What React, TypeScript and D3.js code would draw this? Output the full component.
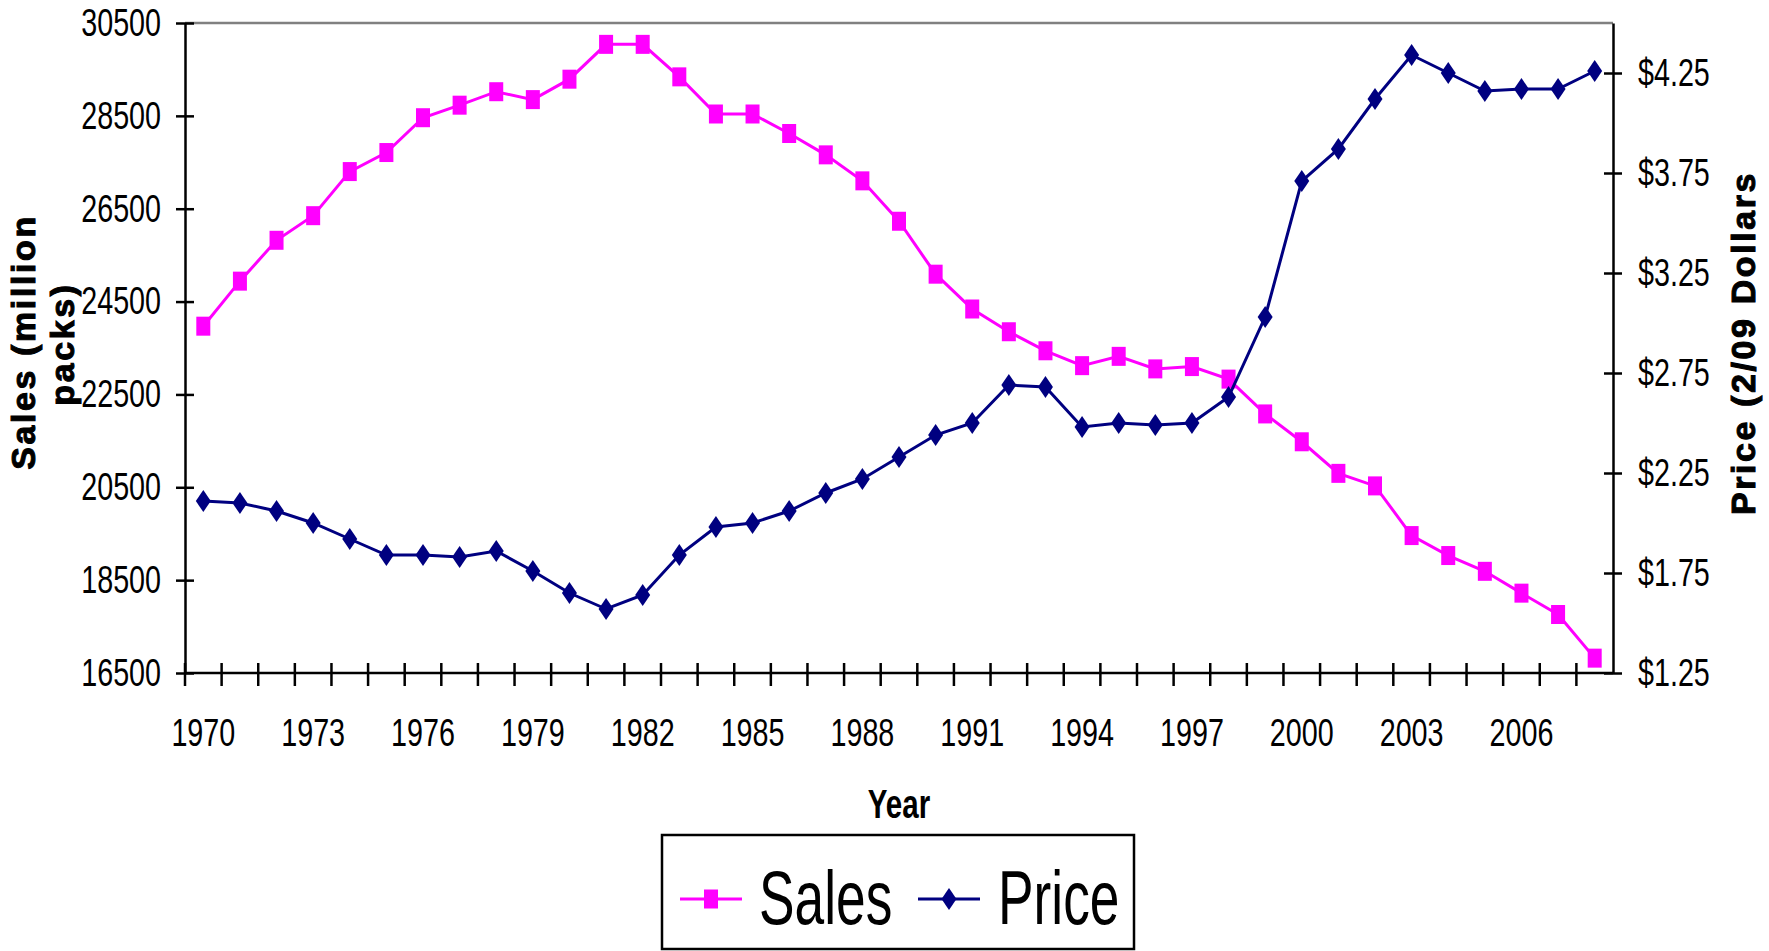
import { useEffect, useRef } from "react";
import * as d3 from "d3";

const years = [
  1970, 1971, 1972, 1973, 1974, 1975, 1976, 1977, 1978, 1979, 1980, 1981, 1982,
  1983, 1984, 1985, 1986, 1987, 1988, 1989, 1990, 1991, 1992, 1993, 1994, 1995,
  1996, 1997, 1998, 1999, 2000, 2001, 2002, 2003, 2004, 2005, 2006, 2007, 2008,
];

// million packs
const sales = [
  23970, 24940, 25820, 26350, 27300, 27710, 28460, 28730, 29020, 28850, 29290,
  30040, 30040, 29340, 28540, 28540, 28120, 27660, 27100, 26230, 25090, 24340,
  23850, 23440, 23120, 23320, 23050, 23100, 22830, 22080, 21480, 20800, 20530,
  19460, 19030, 18690, 18220, 17760, 16820,
];

// 2/09 dollars
const price = [
  2.11, 2.1, 2.06, 2.0, 1.92, 1.84, 1.84, 1.83, 1.86, 1.76, 1.65, 1.57, 1.64,
  1.84, 1.98, 2.0, 2.06, 2.15, 2.22, 2.33, 2.44, 2.5, 2.69, 2.68, 2.48, 2.5,
  2.49, 2.5, 2.63, 3.03, 3.71, 3.87, 4.12, 4.34, 4.25, 4.16, 4.17, 4.17, 4.26,
];

const salesTicks = [16500, 18500, 20500, 22500, 24500, 26500, 28500, 30500];
const priceTicks = [1.25, 1.75, 2.25, 2.75, 3.25, 3.75, 4.25];
const yearLabels = [
  1970, 1973, 1976, 1979, 1982, 1985, 1988, 1991, 1994, 1997, 2000, 2003, 2006,
];

const W = 1769;
const H = 951;
const SANS = "'Liberation Sans', Arial, sans-serif";
const PINK = "#FF00FF";
const NAVY = "#000080";
// the chart text is a narrow face, squeezed sideways and a bit tall
const NARROW_T = "scale(0.82,1.1)";

const App = () => {
  const svgRef = useRef<SVGSVGElement>(null);

  useEffect(() => {
    const svg = d3.select(svgRef.current);
    svg.selectAll("*").remove();

    const left = 185;
    const right = 1613;
    const top = 23;
    const bottom = 673;

    const x = d3
      .scaleBand<string>()
      .domain(years.map(String))
      .range([left, right]);
    const bw = x.bandwidth();
    const cx = (i: number) => (x(String(years[i])) as number) + bw / 2;

    const yL = d3.scaleLinear().domain([16500, 30500]).range([bottom, top]);
    const yR = d3.scaleLinear().domain([1.25, 4.5]).range([bottom, top]);

    // top border of plot area
    svg
      .append("line")
      .attr("x1", left)
      .attr("x2", right)
      .attr("y1", top)
      .attr("y2", top)
      .attr("stroke", "#808080")
      .attr("stroke-width", 2.5);

    const styleAxis = (g: any, crossX: number, shift: number) => {
      g.select(".domain").attr("stroke", "#000").attr("stroke-width", 2.5);
      g.selectAll(".tick line")
        .attr("stroke", "#000")
        .attr("stroke-width", 2.5)
        .attr("x1", crossX);
      g.selectAll(".tick text")
        .attr("x", 0)
        .attr("font-family", SANS)
        .attr("font-size", 35)
        .attr("fill", "#000")
        .attr("transform", `translate(${shift},0) ${NARROW_T}`);
    };

    const gl = svg
      .append("g")
      .attr("transform", `translate(${left},0)`)
      .call(
        d3
          .axisLeft(yL)
          .tickValues(salesTicks)
          .tickSize(9)
          .tickSizeOuter(0)
          .tickFormat(d3.format("d"))
      );
    styleAxis(gl, 9, -24);

    const gr = svg
      .append("g")
      .attr("transform", `translate(${right},0)`)
      .call(
        d3
          .axisRight(yR)
          .tickValues(priceTicks)
          .tickSize(9)
          .tickSizeOuter(0)
          .tickFormat((d) => "$" + d3.format(".2f")(d as number))
      );
    styleAxis(gr, -9, 25);

    // x axis with ticks at category boundaries
    const gx = svg.append("g");
    gx.append("line")
      .attr("x1", left)
      .attr("x2", right)
      .attr("y1", bottom)
      .attr("y2", bottom)
      .attr("stroke", "#000")
      .attr("stroke-width", 2.5);
    gx.selectAll(".xt")
      .data(years)
      .enter()
      .append("line")
      .attr("class", "xt")
      .attr("x1", (d) => x(String(d)) as number)
      .attr("x2", (d) => x(String(d)) as number)
      .attr("y1", bottom - 10)
      .attr("y2", bottom + 13)
      .attr("stroke", "#000")
      .attr("stroke-width", 2.5);
    gx.selectAll(".xl")
      .data(yearLabels)
      .enter()
      .append("text")
      .attr("class", "xl")
      .attr(
        "transform",
        (d) => `translate(${(x(String(d)) as number) + bw / 2},746) ${NARROW_T}`
      )
      .attr("text-anchor", "middle")
      .attr("font-family", SANS)
      .attr("font-size", 35)
      .text((d) => d);

    // Sales line
    const salesLine = d3
      .line<number>()
      .x((_, i) => cx(i))
      .y((d) => yL(d));
    svg
      .append("path")
      .datum(sales)
      .attr("d", salesLine)
      .attr("fill", "none")
      .attr("stroke", PINK)
      .attr("stroke-width", 3);
    svg
      .selectAll(".sm")
      .data(sales)
      .enter()
      .append("rect")
      .attr("class", "sm")
      .attr("x", (_, i) => cx(i) - 7)
      .attr("y", (d) => yL(d) - 9.5)
      .attr("width", 14)
      .attr("height", 19)
      .attr("fill", PINK);

    // Price line
    const priceLine = d3
      .line<number>()
      .x((_, i) => cx(i))
      .y((d) => yR(d));
    svg
      .append("path")
      .datum(price)
      .attr("d", priceLine)
      .attr("fill", "none")
      .attr("stroke", NAVY)
      .attr("stroke-width", 3);
    const diamond = "M0,-11L7.5,0L0,11L-7.5,0Z";
    svg
      .selectAll(".pm")
      .data(price)
      .enter()
      .append("path")
      .attr("class", "pm")
      .attr("transform", (d, i) => `translate(${cx(i)},${yR(d)})`)
      .attr("d", diamond)
      .attr("fill", NAVY);

    // axis titles
    const ytitle = svg
      .append("g")
      .attr("font-family", SANS)
      .attr("font-weight", "bold")
      .attr("font-size", 34)
      .attr("letter-spacing", 2.6)
      .attr("stroke", "#000")
      .attr("stroke-width", 1)
      .attr("text-anchor", "middle");
    ytitle
      .append("text")
      .attr("transform", "translate(23,342) rotate(-90)")
      .attr("dy", "0.35em")
      .text("Sales (million");
    ytitle
      .append("text")
      .attr("transform", "translate(62,344) rotate(-90)")
      .attr("dy", "0.35em")
      .text("packs)");
    ytitle
      .append("text")
      .attr("transform", "translate(1743,343) rotate(-90)")
      .attr("dy", "0.35em")
      .text("Price (2/09 Dollars");

    svg
      .append("text")
      .attr("transform", `translate(${(left + right) / 2},818) scale(0.82,1.12)`)
      .attr("text-anchor", "middle")
      .attr("font-family", SANS)
      .attr("font-weight", "bold")
      .attr("font-size", 36)
      .text("Year");

    // legend
    const lg = svg.append("g");
    lg.append("rect")
      .attr("x", 662)
      .attr("y", 835)
      .attr("width", 472)
      .attr("height", 114)
      .attr("fill", "#fff")
      .attr("stroke", "#000")
      .attr("stroke-width", 2.5);
    lg.append("line")
      .attr("x1", 680)
      .attr("x2", 742)
      .attr("y1", 899)
      .attr("y2", 899)
      .attr("stroke", PINK)
      .attr("stroke-width", 3);
    lg.append("rect")
      .attr("x", 711 - 7)
      .attr("y", 899 - 9.5)
      .attr("width", 14)
      .attr("height", 19)
      .attr("fill", PINK);
    lg.append("line")
      .attr("x1", 918)
      .attr("x2", 980)
      .attr("y1", 899)
      .attr("y2", 899)
      .attr("stroke", NAVY)
      .attr("stroke-width", 3);
    lg.append("path")
      .attr("transform", "translate(949,899)")
      .attr("d", diamond)
      .attr("fill", NAVY);
    lg.append("text")
      .attr("transform", "translate(759,924) scale(0.82,1.18)")
      .attr("font-family", SANS)
      .attr("font-size", 65)
      .text("Sales");
    lg.append("text")
      .attr("transform", "translate(998,924) scale(0.82,1.18)")
      .attr("font-family", SANS)
      .attr("font-size", 65)
      .text("Price");
  }, []);

  return (
    <div>
      <style>{`body{margin:0;background:#fff}`}</style>
      <svg ref={svgRef} width={W} height={H} style={{ display: "block" }}></svg>
    </div>
  );
};

export default App;
